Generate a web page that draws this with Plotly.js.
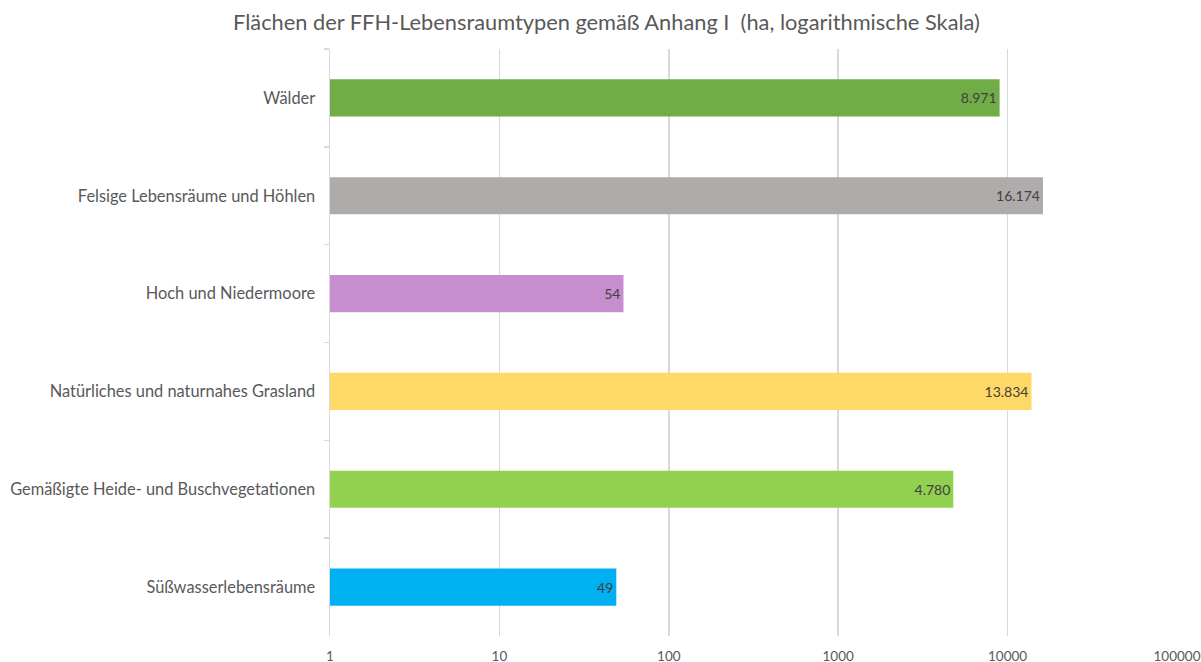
<!DOCTYPE html>
<html>
<head>
<meta charset="utf-8">
<script src="https://cdn.plot.ly/plotly-3.0.1.min.js"></script>
<style>html,body{margin:0;padding:0;background:#fff;}#chart{width:1201px;height:662px;}</style>
</head>
<body>
<div id="chart"></div>
<script>
const categories = ["Wälder", "Felsige Lebensräume und Höhlen", "Hoch und Niedermoore", "Natürliches und naturnahes Grasland", "Gemäßigte Heide- und Buschvegetationen", "Süßwasserlebensräume"];
const areas = [8971, 16174, 54, 13834, 4780, 49];
const barColors = ["#70AD47", "#AFABAB", "#C78ECF", "#FFD966", "#92D050", "#00B0F0"];
const tickValues = [1, 10, 100, 1000, 10000, 100000];
const tickLabels = ["1", "10", "100", "1000", "10000", "100000"];

const font = "Lato, 'Open Sans', sans-serif";

Plotly.newPlot("chart", [{
  type: "bar",
  orientation: "h",
  y: categories,
  x: areas,
  marker: {color: barColors},
  width: 0.38,
  texttemplate: "%{x:,.0f}",
  textposition: "inside",
  insidetextanchor: "end",
  textangle: 0,
  constraintext: "none",
  textfont: {family: font, size: 14, color: "#404040"},
  hoverinfo: "none"
}], {
  width: 1201, height: 662,
  separators: ",.",
  margin: {l: 330, r: 24, t: 49, b: 26},
  paper_bgcolor: "#fff", plot_bgcolor: "#fff",
  showlegend: false,
  title: {text: "Flächen der FFH-Lebensraumtypen gemäß Anhang I  (ha, logarithmische Skala)", font: {family: font, size: 21.8, color: "#595959"}, x: 0.505, xanchor: "center", y: 0.966, yanchor: "middle"},
  xaxis: {
    type: "log", range: [0, 5],
    tickvals: tickValues, ticktext: tickLabels,
    showgrid: true, gridcolor: "#D9D9D9", gridwidth: 1.5,
    zeroline: false, showline: false, ticks: "",
    ticklabelstandoff: 10,
    tickfont: {family: font, size: 13.5, color: "#595959"}
  },
  yaxis: {
    autorange: "reversed",
    showline: true, linecolor: "#D9D9D9", linewidth: 1.5,
    ticks: "outside", tickson: "boundaries", ticklen: 5, tickcolor: "#D9D9D9", tickwidth: 1.5,
    showgrid: false,
    ticklabelstandoff: 10,
    tickfont: {family: font, size: 16.4, color: "#595959"}
  },
  bargap: 0.62
}, {displayModeBar: false, staticPlot: true});
</script>
</body>
</html>
